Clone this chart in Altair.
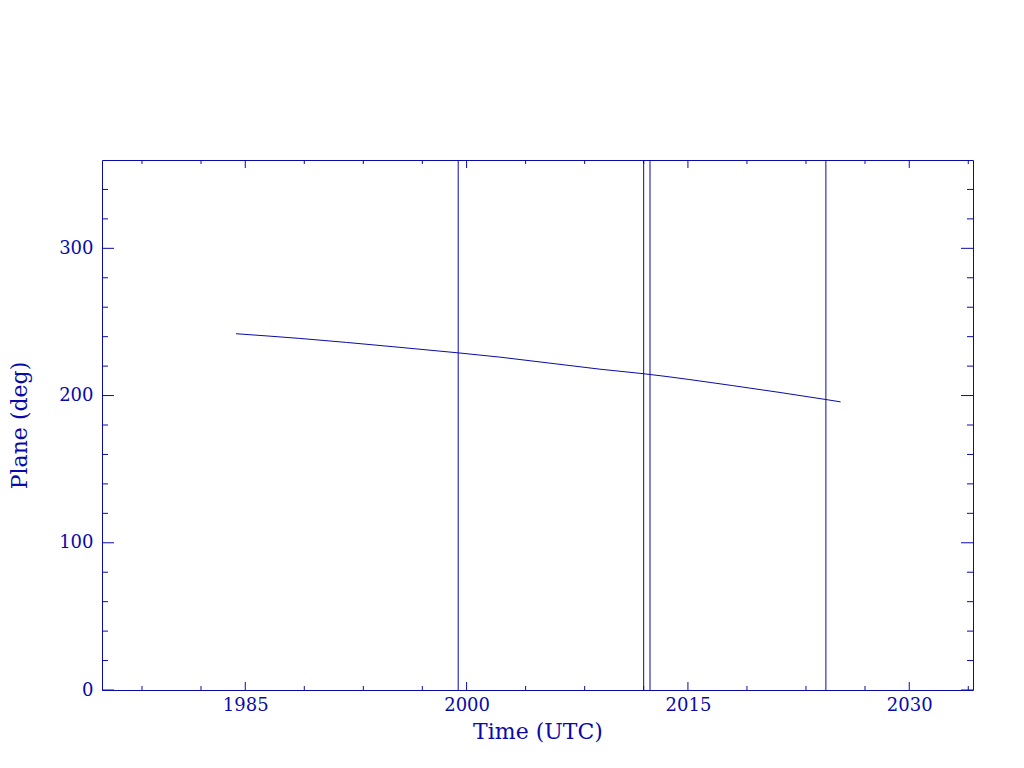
import altair as alt
import pandas as pd

# ---- data ----
line_years = [1984.37, 1988.7, 1995.0, 1999.44, 2002.26, 2009.04, 2012.02, 2018.0, 2024.35, 2025.35]
line_plane = [242.0, 238.8, 233.2, 229.0, 226.1, 217.9, 214.8, 206.8, 197.3, 195.7]

event_years = [1999.43, 2012.0, 2012.43, 2024.35]

x_major = [1985, 2000, 2015, 2030]
x_minor = [1978, 1982, 1989, 1993, 1997, 2004, 2008, 2012, 2019, 2023, 2027, 2034]
y_major = [0, 100, 200, 300]
y_minor = [20, 40, 60, 80, 120, 140, 160, 180, 220, 240, 260, 280, 320, 340]

# ---- styling ----
COL = "#0a0aa8"
FONT = "DejaVu Serif"
W, H = 871, 530
X_DOMAIN = [1975.29, 2034.32]
Y_DOMAIN = [0, 360]

xscale = alt.Scale(domain=X_DOMAIN, nice=False, zero=False)
yscale = alt.Scale(domain=Y_DOMAIN, nice=False, zero=False)

xaxis = alt.Axis(values=x_major, format="d", title="Time (UTC)",
                 labelFont=FONT, labelFontSize=18, labelColor=COL,
                 titleFont=FONT, titleFontSize=22, titleFontWeight="normal",
                 titleColor=COL, ticks=False, domain=False, grid=False,
                 labelPadding=6, titlePadding=7)
yaxis = alt.Axis(values=y_major, format="d", title="Plane (deg)",
                 labelFont=FONT, labelFontSize=18, labelColor=COL,
                 titleFont=FONT, titleFontSize=22, titleFontWeight="normal",
                 titleColor=COL, ticks=False, domain=False, grid=False,
                 labelPadding=9, titleX=-71, titleY=H / 2)


def X(field):
    return alt.X(field, type="quantitative", scale=xscale, axis=xaxis)


def Y(field):
    return alt.Y(field, type="quantitative", scale=yscale, axis=yaxis)


line_df = pd.DataFrame({"year": line_years, "plane": line_plane})
events_df = pd.DataFrame({"year": event_years})
xmaj_df = pd.DataFrame({"year": x_major})
xmin_df = pd.DataFrame({"year": x_minor})
ymaj_df = pd.DataFrame({"deg": y_major})
ymin_df = pd.DataFrame({"deg": y_minor})

line = alt.Chart(line_df).mark_line(color=COL, strokeWidth=1, interpolate="monotone").encode(
    x=X("year"), y=Y("plane")
)

events = alt.Chart(events_df).mark_rule(color=COL, strokeWidth=1).encode(
    x=X("year"), y=alt.Y(datum=0, scale=yscale, axis=yaxis), y2=alt.datum(360)
)


def xticks(df, length):
    bottom = alt.Chart(df).mark_rule(color=COL, strokeWidth=1).encode(
        x=X("year"), y=alt.value(H), y2=alt.value(H - length))
    top = alt.Chart(df).mark_rule(color=COL, strokeWidth=1).encode(
        x=X("year"), y=alt.value(0), y2=alt.value(length))
    return [bottom, top]


def yticks(df, length):
    left = alt.Chart(df).mark_rule(color=COL, strokeWidth=1).encode(
        y=Y("deg"), x=alt.value(0), x2=alt.value(length))
    right = alt.Chart(df).mark_rule(color=COL, strokeWidth=1).encode(
        y=Y("deg"), x=alt.value(W), x2=alt.value(W - length))
    return [left, right]


layers = [line, events]
layers += xticks(xmaj_df, 8) + xticks(xmin_df, 4)
layers += yticks(ymaj_df, 12) + yticks(ymin_df, 6)

chart = alt.layer(*layers).properties(
    width=W, height=H,
    autosize=alt.AutoSizeParams(type="none"),
    padding={"left": 94, "top": 152, "right": 40, "bottom": 70},
    background="white",
).configure_view(stroke=COL, strokeWidth=1)

chart.save("out.html", embed_options={"renderer": "svg", "actions": False})
